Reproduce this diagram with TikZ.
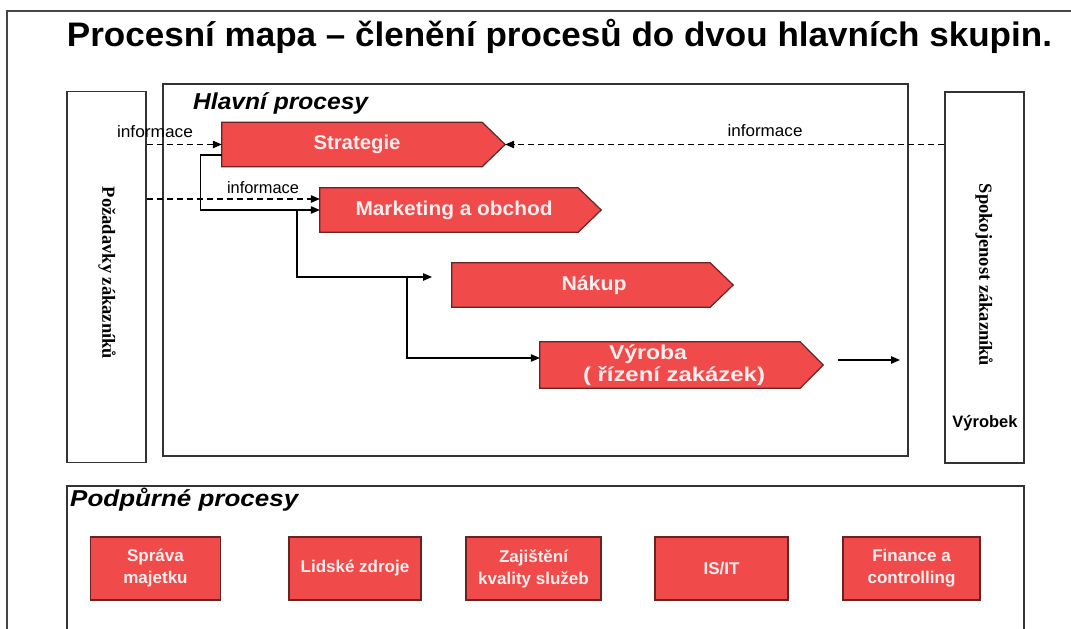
\documentclass[tikz,border=0pt]{standalone}
\usepackage{fontspec}
\setmainfont{Liberation Sans}
\newfontfamily\serifbold{Liberation Serif}
\usetikzlibrary{arrows.meta,backgrounds}
\definecolor{procred}{RGB}{240,74,74}
\definecolor{procedge}{RGB}{105,35,35}
\definecolor{proctext}{RGB}{255,238,238}
\definecolor{framegray}{RGB}{70,70,70}
\newcommand{\wfit}[2]{\resizebox{#1}{\height}{#2}}
\newcommand{\fs}[1]{\fontsize{#1}{#1}\selectfont}
\begin{document}
\begin{tikzpicture}[x=1pt,y=-1pt,
  procbody/.style={minimum width=260pt,minimum height=44pt,inner sep=0pt,
    text=proctext,font=\bfseries\fs{20}},
  procshape/.style={fill=procred,draw=procedge,line width=1.2pt},
  supbox/.style={fill=procred,draw=procedge,line width=1.2pt,minimum height=63pt,
    inner sep=0pt,text=proctext,font=\bfseries\fs{17},align=center},
  container/.style={draw=black!80,line width=1.3pt,inner sep=0pt},
  sidebox/.style={draw=black!80,line width=1.3pt,minimum width=79pt,minimum height=371pt,inner sep=0pt},
  infolabel/.style={font=\fs{16.5},inner sep=0pt},
  flow/.style={line width=1.1pt,-{Triangle[length=9pt,width=7.5pt]}},
  infoflow/.style={flow,dashed,dash pattern=on 6pt off 4pt},
  header/.style={font=\bfseries\itshape\fs{23},inner sep=0pt,anchor=west}
]
\useasboundingbox (0,0) rectangle (1071,629);
\begin{pgfonlayer}{background}
\fill[white] (0,0) rectangle (1071,629);
\end{pgfonlayer}
% outer frame
\draw[framegray,line width=1.6pt] (7,640) -- (7,11) -- (1080,11);
% title
\node[inner sep=0pt] (title) at (559.5,36) {\wfit{985pt}{\bfseries\fs{34}Procesní mapa – členění procesů do dvou hlavních skupin.}};

% side boxes
\node[sidebox] (lbox) at (106.5,277) {};
\node[rotate=-90,inner sep=0pt,font=\serifbold\bfseries\fs{18.5}] (ltext) at (107,273) {Požadavky zákazníků};
\node[sidebox] (rbox) at (984.5,277.5) {};
\node[rotate=-90,inner sep=0pt,font=\serifbold\bfseries\fs{18.5}] (rtext) at (984,275) {Spokojenost zákazníků};
\node[inner sep=0pt,font=\bfseries\fs{16.5}] (vyrobek) at (985,423) {Výrobek};

% main container
\node[container,minimum width=745pt,minimum height=372pt] (hp) at (535.5,270) {};
\node[header] (hptitle) at (193,103) {\wfit{175pt}{Hlavní procesy}};

% process arrows
\node[procbody] (strat) at (352,144.5) {\hspace*{10pt}\wfit{87pt}{Strategie}};
\node[procbody,minimum width=258pt] (mkt) at (449,210) {\hspace*{10pt}\wfit{197pt}{Marketing a obchod}};
\node[procbody,minimum width=258pt] (nak) at (581,285) {\hspace*{26pt}\wfit{65pt}{Nákup}};
\node[procbody,minimum height=46pt,align=center] (vyr) at (670,365)
  {\wfit{78pt}{Výroba}\hspace*{44pt}\\[2pt]\hspace*{8pt}\wfit{182pt}{( řízení zakázek)}};
\begin{pgfonlayer}{background}
\foreach \n in {strat,mkt,nak,vyr}{
  \filldraw[procshape] (\n.north west) -- (\n.north east) -- ([xshift=23pt]\n.east)
    -- (\n.south east) -- (\n.south west) -- cycle;
}
\end{pgfonlayer}
\coordinate (strattip) at ([xshift=23pt]strat.east);

% information flows
\draw[infoflow] (lbox.east |- strat.west) -- (strat.west);
\node[infolabel] (info1) at (155,132) {\wfit{76pt}{informace}};
\draw[infoflow] (lbox.east |- 0,199) -- ([yshift=11pt]mkt.west);
\node[infolabel] (info2) at (263,188) {\wfit{72pt}{informace}};
\draw[infoflow] (rbox.west |- strattip) -- (strattip);
\node[infolabel] (info3) at (765,131) {\wfit{75pt}{informace}};

% process flows
\draw[flow] ([yshift=-10.5pt]strat.west) -- ++(-21,0) |- (mkt.west);
\coordinate (j1) at (297,210);
\coordinate (nakin) at (432,277);
\draw[flow] (j1) |- (nakin);
\coordinate (j2) at (407,277);
\draw[flow] (j2) |- ([yshift=7pt]vyr.west);
\coordinate (out1) at (838,360);
\coordinate (out2) at (900,360);
\draw[flow] (out1) -- (out2);

% support processes
\draw[container] (67,640) |- (1024,486) -- (1024,640);
\node[header] (pptitle) at (70,500) {\wfit{228pt}{Podpůrné procesy}};
\node[supbox,minimum width=130pt] (spr) at (155.5,568.5) {Správa\\[5pt]majetku};
\node[supbox,minimum width=132pt] (lid) at (355,568.5) {Lidské zdroje};
\node[supbox,minimum width=135pt] (zaj) at (533.5,568.5) {Zajištění\\[5pt]kvality služeb};
\node[supbox,minimum width=133pt] (isit) at (721.5,568.5) {IS/IT};
\node[supbox,minimum width=137pt] (fin) at (911.5,568.5) {Finance a\\[5pt]controlling};
\end{tikzpicture}
\end{document}
